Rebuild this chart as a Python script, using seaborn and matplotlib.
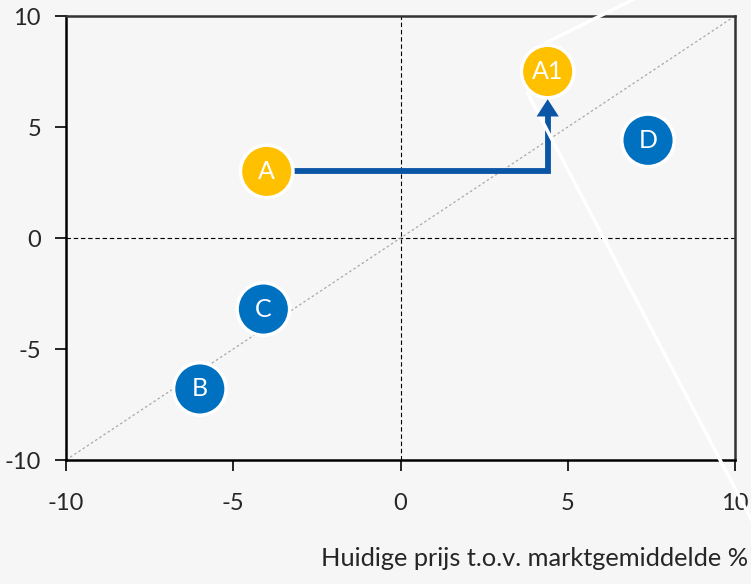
import matplotlib
matplotlib.use("Agg")
import matplotlib.pyplot as plt
import seaborn as sns
import pandas as pd

# ---- data ----
labels = ["A", "A1", "B", "C", "D"]
x_vals = [-4.0, 4.4, -6.0, -4.1, 7.4]
y_vals = [3.0, 7.5, -6.8, -3.2, 4.4]
groups = ["geel", "geel", "blauw", "blauw", "blauw"]
ticks = [-10, -5, 0, 5, 10]
tick_labels = ["-10", "-5", "0", "5", "10"]
x_label = "Huidige prijs t.o.v. marktgemiddelde %"
# arrow path (A -> A1)
arrow_x = [-4.0, 4.4, 4.4]
arrow_y = [3.0, 3.0, 5.55]
arrow_tip_y = 6.25
# white leader lines
lead1_x = [4.33, 7.3]
lead1_y = [8.78, 11.0]
lead2_x = [3.8, 10.6]
lead2_y = [6.53, -13.0]

BG = "#f6f6f6"
sns.set_theme(style="ticks")
plt.rcParams["font.family"] = ["Lato", "DejaVu Sans"]
plt.rcParams["axes.unicode_minus"] = False

df = pd.DataFrame({"x": x_vals, "y": y_vals, "g": groups, "label": labels})

fig = plt.figure(figsize=(7.51, 5.84), dpi=100, facecolor=BG)
ax = fig.add_axes([0.0879, 0.2123, 0.8908, 0.7603])
ax.set_facecolor(BG)

ax.set_xlim(-10, 10)
ax.set_ylim(-10, 10)

# reference lines
ax.axhline(0, color="black", lw=0.8, ls=(0, (4, 2.5)), zorder=1)
ax.axvline(0, color="black", lw=0.8, ls=(0, (4, 2.5)), zorder=1)
ax.plot([-10, 10], [-10, 10], color="#a8a8a8", lw=0.9, ls=(0, (2, 2)), zorder=1)

sns.scatterplot(data=df, x="x", y="y", hue="g",
                palette={"geel": "#ffc000", "blauw": "#0070c0"},
                s=1430, edgecolor="white", linewidth=2.5, legend=False,
                ax=ax, zorder=3)

for lab, xv, yv in zip(labels, x_vals, y_vals):
    ax.text(xv, yv, lab, color="white", ha="center", va="center",
            fontsize=18, zorder=4)

# white leader lines
ax.plot(lead1_x, lead1_y, color="white", lw=2.5, clip_on=False, zorder=5)
ax.plot(lead2_x, lead2_y, color="white", lw=2.5, clip_on=False, zorder=5)

# arrow
ax.plot(arrow_x, arrow_y, color="#0a55a5", lw=4.2, solid_joinstyle="miter",
        solid_capstyle="butt", zorder=2.8)
ax.annotate("", xy=(arrow_x[-1], arrow_tip_y), xytext=(arrow_x[-1], arrow_y[-1] - 0.3),
            arrowprops=dict(arrowstyle="-|>,head_length=0.62,head_width=0.4",
                            mutation_scale=20, facecolor="#0a55a5",
                            edgecolor="#0a55a5", lw=0,
                            shrinkA=0, shrinkB=0), zorder=6)

ax.set_xticks(ticks)
ax.set_xticklabels(tick_labels)
ax.set_yticks(ticks)
ax.set_yticklabels(tick_labels)
ax.tick_params(axis="both", labelsize=17, color="black", width=1.2,
               length=8, direction="out")
ax.tick_params(axis="x", pad=16)
ax.tick_params(axis="y", pad=10)
ax.set_xlabel("")
ax.set_ylabel("")

for side in ["left", "bottom"]:
    ax.spines[side].set_color("black")
    ax.spines[side].set_linewidth(1.8)
for side in ["top", "right"]:
    ax.spines[side].set_visible(True)
    ax.spines[side].set_color("#333333")
    ax.spines[side].set_linewidth(1.8)

fig.text(0.996, 0.024, x_label, ha="right", va="bottom", fontsize=18.3)

fig.savefig("out.png", dpi=100, facecolor=BG)
